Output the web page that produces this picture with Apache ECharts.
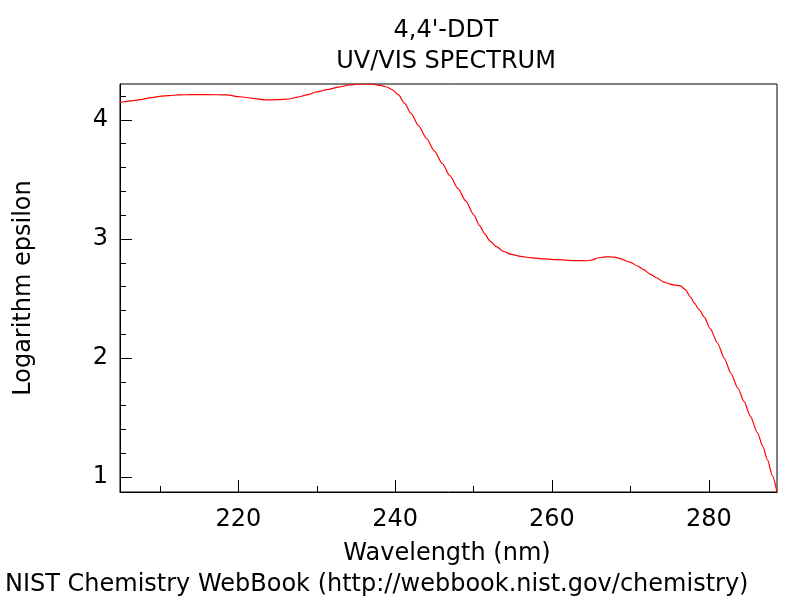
<!DOCTYPE html>
<html>
<head>
<meta charset="utf-8">
<script src="https://cdn.jsdelivr.net/npm/echarts@6/dist/echarts.min.js"></script>
<style>
html,body{margin:0;padding:0;background:#fff;}
#chart{width:800px;height:600px;}
</style>
</head>
<body>
<div id="chart"></div>
<script>
// ---- data ----
const wavelengths = [
  204.9, 206.2, 207.4, 208.7, 210.0, 211.2, 212.3, 214.0, 216.0, 218.5,
  220.2, 221.8, 223.5, 225.0, 226.4, 227.6, 228.7, 230.0, 231.3, 232.8,
  234.2, 235.2, 236.2, 237.2, 238.1, 238.9, 239.6, 240.4, 241.2, 242.0,
  243.0, 244.0, 245.0, 246.0, 247.0, 248.0, 249.0, 250.0, 250.8, 251.4,
  252.1, 252.9, 253.8, 254.8, 256.0, 257.2, 258.5, 260.6, 262.8, 264.5,
  265.2, 265.8, 266.6, 267.4, 268.0, 268.7, 269.5, 270.0, 271.0, 271.7,
  272.5, 273.4, 274.2, 274.7, 275.5, 276.4, 277.0, 277.7, 278.1, 278.8,
  279.4, 280.2, 281.1, 282.0, 282.8, 283.7, 284.5, 285.3, 286.2, 286.9,
  287.5, 288.1, 288.7
];
const logEpsilon = [
  4.147, 4.160, 4.170, 4.185, 4.198, 4.205, 4.210, 4.213, 4.213, 4.210,
  4.195, 4.182, 4.168, 4.170, 4.176, 4.192, 4.210, 4.235, 4.255, 4.276,
  4.294, 4.300, 4.302, 4.300, 4.290, 4.277, 4.255, 4.212, 4.140, 4.058,
  3.950, 3.845, 3.740, 3.635, 3.530, 3.425, 3.320, 3.205, 3.110, 3.045,
  2.982, 2.935, 2.896, 2.870, 2.854, 2.843, 2.835, 2.826, 2.818, 2.817,
  2.825, 2.840, 2.848, 2.850, 2.847, 2.835, 2.815, 2.803, 2.770, 2.742,
  2.705, 2.672, 2.640, 2.628, 2.614, 2.606, 2.574, 2.510, 2.465, 2.405,
  2.345, 2.245, 2.126, 1.995, 1.874, 1.748, 1.635, 1.512, 1.372, 1.255,
  1.142, 1.012, 0.875
];
const xMajorTicks = [220, 240, 260, 280];
const xMinorTicks = [210, 230, 250, 270];
const yMajorTicks = [1, 2, 3, 4];
const yMinorTicks = [1.2, 1.4, 1.6, 1.8, 2.2, 2.4, 2.6, 2.8, 3.2, 3.4, 3.6, 3.8, 4.2];
const xRange = [204.9, 288.7];
const yRange = [0.874, 4.302];
const titleLines = ["4,4'-DDT", "UV/VIS SPECTRUM"];
const xAxisName = "Wavelength (nm)";
const yAxisName = "Logarithm epsilon";
const footer = "NIST Chemistry WebBook (http://webbook.nist.gov/chemistry)";

const FONT = '"DejaVu Sans", sans-serif';
const FS = 24;

const points = wavelengths.map((w, i) => [w, logEpsilon[i]]);

const chart = echarts.init(document.getElementById('chart'), null, {renderer: 'canvas'});

function xAxisCfg(major) {
  return {
    type: 'value', position: 'bottom', min: xRange[0], max: xRange[1],
    axisLine: {show: major, lineStyle: {color: '#000', width: 1}},
    axisTick: {show: true, inside: true, length: major ? 12 : 6,
      customValues: major ? xMajorTicks : xMinorTicks, lineStyle: {color: '#000', width: 1}},
    axisLabel: {show: major, customValues: xMajorTicks, color: '#000', fontFamily: FONT,
      fontSize: FS, margin: 16},
    splitLine: {show: false}
  };
}
function yAxisCfg(major) {
  return {
    type: 'value', position: 'left', min: yRange[0], max: yRange[1],
    axisLine: {show: major, lineStyle: {color: '#000', width: 1}},
    axisTick: {show: true, inside: true, length: major ? 12 : 6,
      customValues: major ? yMajorTicks : yMinorTicks, lineStyle: {color: '#000', width: 1}},
    axisLabel: {show: major, customValues: yMajorTicks, color: '#000', fontFamily: FONT,
      fontSize: FS, margin: 12},
    splitLine: {show: false}
  };
}

chart.setOption({
  backgroundColor: '#fff',
  animation: false,
  grid: {left: 120, right: 23, top: 84, bottom: 108, show: true,
    borderColor: '#000', borderWidth: 1, backgroundColor: 'transparent'},
  xAxis: [xAxisCfg(true), xAxisCfg(false)],
  yAxis: [yAxisCfg(true), yAxisCfg(false)],
  series: [{
    type: 'line', data: points, xAxisIndex: 0, yAxisIndex: 0,
    showSymbol: false, smooth: 0.25, smoothMonotone: 'x', clip: true,
    lineStyle: {color: '#ff0000', width: 1.2}
  }],
  graphic: [
    {type: 'text', x: 446, y: 30.5, style: {text: titleLines[0], font: FS + 'px ' + FONT,
      fill: '#000', align: 'center', verticalAlign: 'middle'}},
    {type: 'text', x: 446, y: 61.5, style: {text: titleLines[1], font: FS + 'px ' + FONT,
      fill: '#000', align: 'center', verticalAlign: 'middle'}},
    {type: 'text', x: 447, y: 554, style: {text: xAxisName, font: FS + 'px ' + FONT,
      fill: '#000', align: 'center', verticalAlign: 'middle'}},
    {type: 'text', x: 24, y: 288, rotation: Math.PI / 2, style: {text: yAxisName,
      font: FS + 'px ' + FONT, fill: '#000', align: 'center', verticalAlign: 'middle'}},
    {type: 'text', x: 5, y: 585, style: {text: footer, font: FS + 'px ' + FONT,
      fill: '#000', align: 'left', verticalAlign: 'middle'}}
  ]
});
</script>
</body>
</html>
